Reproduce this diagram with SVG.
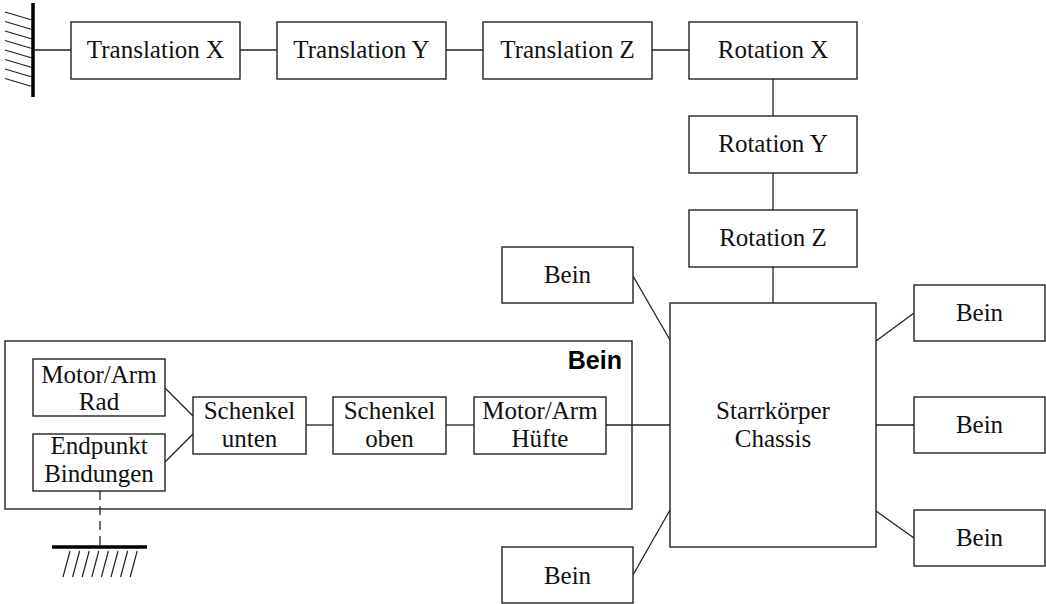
<svg xmlns="http://www.w3.org/2000/svg" width="1046" height="604" viewBox="0 0 1046 604">
  <style>
    .box { fill: #ffffff; stroke: #222222; stroke-width: 1.4; }
    .frame { fill: none; stroke: #222222; stroke-width: 1.4; }
    .lbl { font-family: "Liberation Serif", "Times New Roman", serif; font-size: 25px; fill: #111111; text-anchor: middle; }
    .title { font-family: "Liberation Sans", Arial, sans-serif; font-size: 25px; font-weight: bold; fill: #000000; text-anchor: end; }
    .wire { stroke: #222222; stroke-width: 1.3; fill: none; }
    .dash { stroke: #222222; stroke-width: 1.3; fill: none; stroke-dasharray: 9 6; }
    .fix { stroke: #000000; stroke-width: 3.5; fill: none; }
    .hatch { stroke: #222222; stroke-width: 1.2; fill: none; }
  </style>
  <rect width="1046" height="604" fill="#ffffff"/>

  <!-- fixed support (wall) at the top left -->
  <g id="wall">
    <line class="fix" x1="33" y1="3" x2="33" y2="97"/>
    <line class="hatch" x1="5" y1="12" x2="32" y2="20"/>
    <line class="hatch" x1="5" y1="21.5" x2="32" y2="29.5"/>
    <line class="hatch" x1="5" y1="31" x2="32" y2="39"/>
    <line class="hatch" x1="5" y1="40.5" x2="32" y2="48.5"/>
    <line class="hatch" x1="5" y1="50" x2="32" y2="58"/>
    <line class="hatch" x1="5" y1="59.5" x2="32" y2="67.5"/>
    <line class="hatch" x1="5" y1="69" x2="32" y2="77"/>
    <line class="hatch" x1="5" y1="78.5" x2="32" y2="86.5"/>
  </g>

  <!-- ground support below the leg end point -->
  <g id="ground">
    <line class="fix" x1="52" y1="547" x2="147" y2="547"/>
    <line class="hatch" x1="70" y1="551" x2="63" y2="577"/>
    <line class="hatch" x1="79.6" y1="551" x2="72.6" y2="577"/>
    <line class="hatch" x1="89.2" y1="551" x2="82.2" y2="577"/>
    <line class="hatch" x1="98.8" y1="551" x2="91.8" y2="577"/>
    <line class="hatch" x1="108.4" y1="551" x2="101.4" y2="577"/>
    <line class="hatch" x1="118" y1="551" x2="111" y2="577"/>
    <line class="hatch" x1="127.6" y1="551" x2="120.6" y2="577"/>
    <line class="hatch" x1="137.2" y1="551" x2="130.2" y2="577"/>
  </g>

  <!-- connectors -->
  <g id="connectors">
    <line class="wire" x1="33" y1="50" x2="71" y2="50"/>
    <line class="wire" x1="240" y1="50" x2="277" y2="50"/>
    <line class="wire" x1="446" y1="50" x2="483" y2="50"/>
    <line class="wire" x1="652" y1="50" x2="689" y2="50"/>
    <line class="wire" x1="773" y1="79" x2="773" y2="116"/>
    <line class="wire" x1="773" y1="173" x2="773" y2="210"/>
    <line class="wire" x1="773" y1="267" x2="773" y2="303"/>
    <line class="wire" x1="633" y1="276" x2="670" y2="340"/>
    <line class="wire" x1="633" y1="575" x2="670" y2="510"/>
    <line class="wire" x1="876" y1="341" x2="914" y2="313"/>
    <line class="wire" x1="876" y1="425" x2="914" y2="425"/>
    <line class="wire" x1="876" y1="511" x2="914" y2="538"/>
    <line class="wire" x1="606" y1="425" x2="670" y2="425"/>
    <line class="wire" x1="446" y1="425" x2="474" y2="425"/>
    <line class="wire" x1="306" y1="425" x2="333" y2="425"/>
    <line class="wire" x1="165" y1="388" x2="193" y2="416"/>
    <line class="wire" x1="165" y1="462" x2="193" y2="434"/>
    <line class="dash" x1="100" y1="491" x2="100" y2="545"/>
  </g>

  <!-- leg subsystem frame -->
  <g id="bein-detail">
    <rect class="frame" x="5" y="341" width="627" height="168"/>
    <text class="title" x="622" y="369">Bein</text>
  </g>

  <g id="translation-x">
    <rect class="box" x="71" y="22" width="169" height="57"/>
    <text class="lbl" x="155.5" y="58">Translation X</text>
  </g>
  <g id="translation-y">
    <rect class="box" x="277" y="22" width="169" height="57"/>
    <text class="lbl" x="361.5" y="58">Translation Y</text>
  </g>
  <g id="translation-z">
    <rect class="box" x="483" y="22" width="169" height="57"/>
    <text class="lbl" x="567.5" y="58">Translation Z</text>
  </g>
  <g id="rotation-x">
    <rect class="box" x="689" y="22" width="168" height="57"/>
    <text class="lbl" x="773" y="58">Rotation X</text>
  </g>
  <g id="rotation-y">
    <rect class="box" x="689" y="116" width="168" height="57"/>
    <text class="lbl" x="773" y="152">Rotation Y</text>
  </g>
  <g id="rotation-z">
    <rect class="box" x="689" y="210" width="168" height="57"/>
    <text class="lbl" x="773" y="246">Rotation Z</text>
  </g>

  <g id="chassis">
    <rect class="box" x="670" y="303" width="206" height="244"/>
    <text class="lbl" x="773" y="419">Starrkörper</text>
    <text class="lbl" x="773" y="447">Chassis</text>
  </g>

  <g id="bein-left-top">
    <rect class="box" x="502" y="247" width="131" height="56"/>
    <text class="lbl" x="567.5" y="283">Bein</text>
  </g>
  <g id="bein-left-bottom">
    <rect class="box" x="502" y="547" width="131" height="56"/>
    <text class="lbl" x="567.5" y="584">Bein</text>
  </g>
  <g id="bein-right-top">
    <rect class="box" x="914" y="285" width="131" height="56"/>
    <text class="lbl" x="979.5" y="321">Bein</text>
  </g>
  <g id="bein-right-middle">
    <rect class="box" x="914" y="397" width="131" height="56"/>
    <text class="lbl" x="979.5" y="433">Bein</text>
  </g>
  <g id="bein-right-bottom">
    <rect class="box" x="914" y="510" width="131" height="56"/>
    <text class="lbl" x="979.5" y="546">Bein</text>
  </g>

  <g id="motor-rad">
    <rect class="box" x="33" y="359" width="132" height="57"/>
    <text class="lbl" x="99" y="383">Motor/Arm</text>
    <text class="lbl" x="99" y="410">Rad</text>
  </g>
  <g id="endpunkt">
    <rect class="box" x="33" y="434" width="132" height="57"/>
    <text class="lbl" x="99" y="454">Endpunkt</text>
    <text class="lbl" x="99" y="482">Bindungen</text>
  </g>
  <g id="schenkel-unten">
    <rect class="box" x="193" y="397" width="113" height="57"/>
    <text class="lbl" x="249.5" y="419">Schenkel</text>
    <text class="lbl" x="249.5" y="447">unten</text>
  </g>
  <g id="schenkel-oben">
    <rect class="box" x="333" y="397" width="113" height="57"/>
    <text class="lbl" x="389.5" y="419">Schenkel</text>
    <text class="lbl" x="389.5" y="447">oben</text>
  </g>
  <g id="motor-huefte">
    <rect class="box" x="474" y="397" width="132" height="57"/>
    <text class="lbl" x="540" y="419">Motor/Arm</text>
    <text class="lbl" x="540" y="447">Hüfte</text>
  </g>
</svg>
